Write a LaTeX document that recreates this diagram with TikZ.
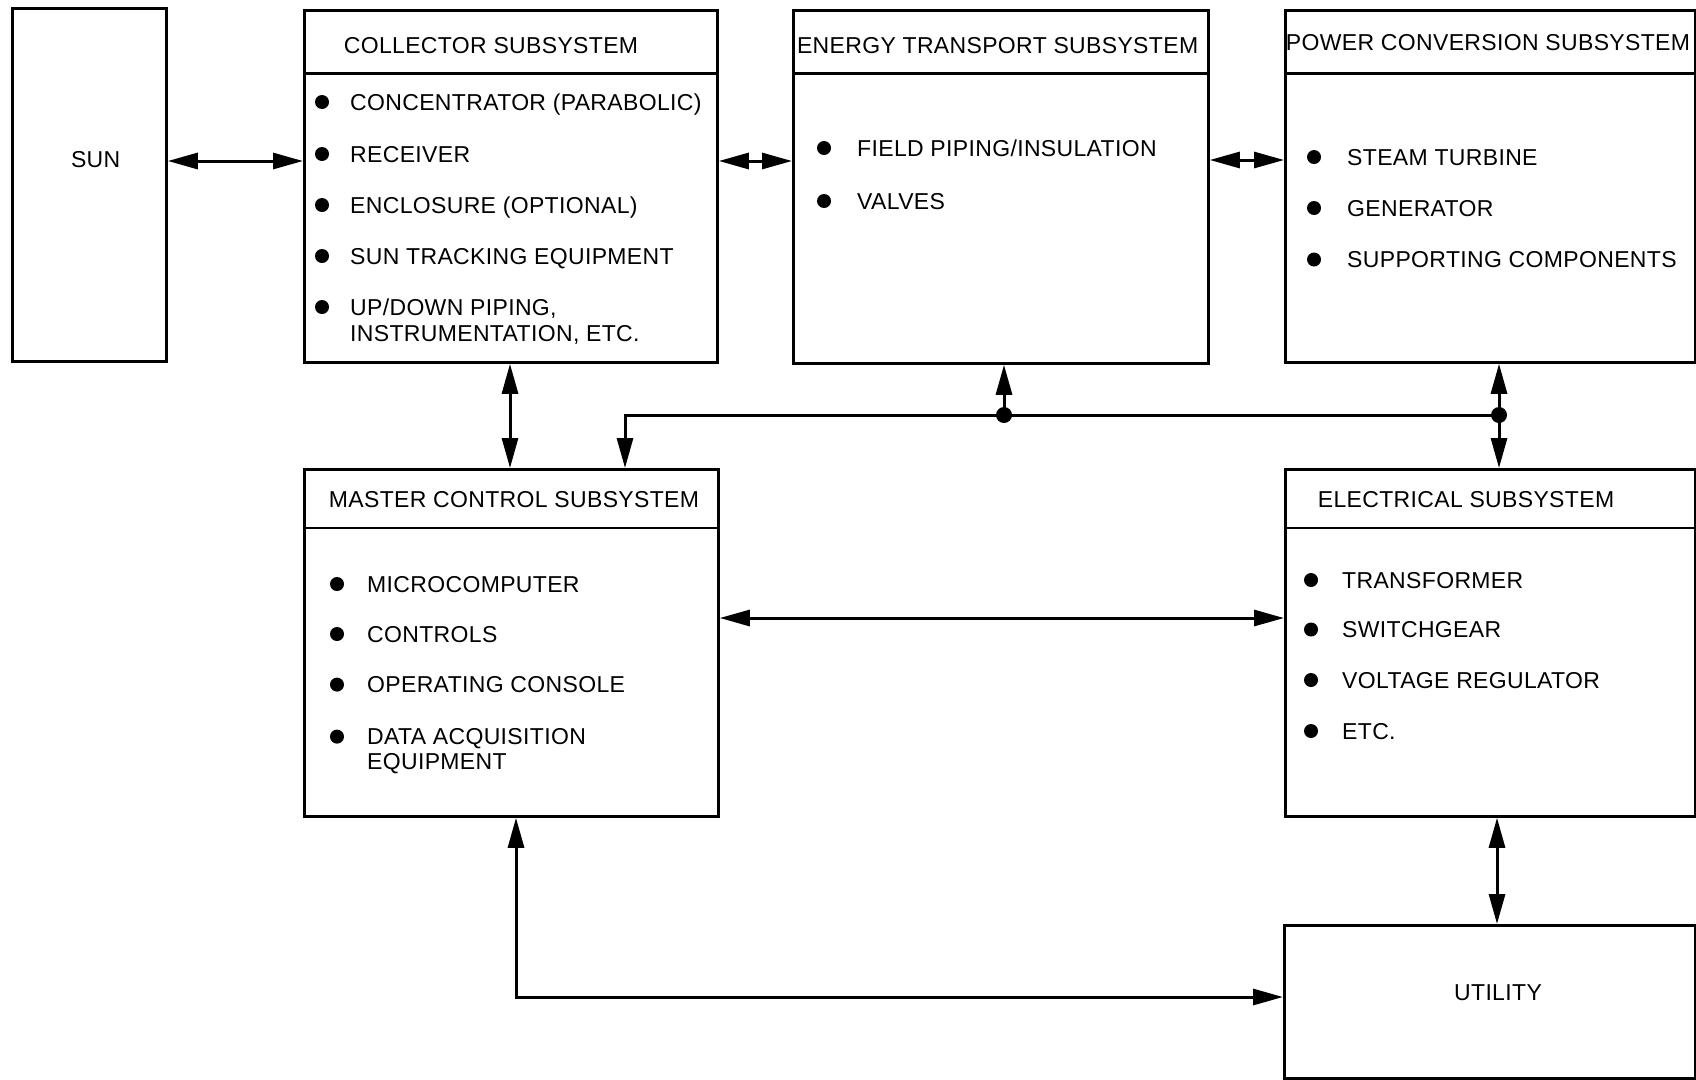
\documentclass[tikz,border=0pt]{standalone}
\usepackage{fontspec}
\setmainfont{Liberation Sans}[LetterSpace=1.5]
\usetikzlibrary{arrows.meta}
\begin{document}
\begin{tikzpicture}[x=1pt,y=-1pt,
  box/.style={draw,line width=2.8pt,rectangle,anchor=north west,inner sep=0pt},
  hline/.style={line width=2.6pt},
  txt/.style={inner sep=0pt,font=\fontsize{23}{27}\selectfont},
  itm/.style={txt,anchor=base west},
  bul/.style={circle,fill,inner sep=0pt,minimum size=14pt},
  jdot/.style={circle,fill,inner sep=0pt,minimum size=16pt},
  tip/.tip={Triangle[length=30pt,width=16pt]},
  conn/.style={line width=3pt},
  arr/.style={conn,tip-tip},
  arrend/.style={conn,-tip}]
\useasboundingbox (0,0) rectangle (1696,1079);

% boxes
\node[box,minimum width=154pt,minimum height=353pt] (sun) at (11,7) {};
\node[box,minimum width=413pt,minimum height=352pt] (col) at (303,9) {};
\node[box,minimum width=415pt,minimum height=353pt] (ets) at (792,9) {};
\node[box,minimum width=410pt,minimum height=352pt] (pcs) at (1284,9) {};
\node[box,minimum width=414pt,minimum height=347pt] (mcs) at (303,468) {};
\node[box,minimum width=410pt,minimum height=347pt] (els) at (1284,468) {};
\node[box,minimum width=411pt,minimum height=153pt] (utl) at (1283,924) {};

% header separators
\draw[hline] ([yshift=-64.5pt]col.north west) -- ([yshift=-64.5pt]col.north east);
\draw[hline] ([yshift=-64.5pt]ets.north west) -- ([yshift=-64.5pt]ets.north east);
\draw[hline] ([yshift=-64.5pt]pcs.north west) -- ([yshift=-64.5pt]pcs.north east);
\draw[hline] ([yshift=-60pt]mcs.north west) -- ([yshift=-60pt]mcs.north east);
\draw[hline] ([yshift=-60pt]els.north west) -- ([yshift=-60pt]els.north east);

% single labels
\node[txt] (sunt) at (95.7,160) {SUN};
\node[txt] (utlt) at (1498,993) {UTILITY};

% headers
\node[txt] (colh) at (491,45.4) {COLLECTOR SUBSYSTEM};
\node[txt] (etsh) at (997.6,45.4) {ENERGY TRANSPORT SUBSYSTEM};
\node[txt] (pcsh) at (1488,43) {POWER CONVERSION SUBSYSTEM};
\node[txt] (mcsh) at (514,499.7) {MASTER CONTROL SUBSYSTEM};
\node[txt] (elsh) at (1466,499.7) {ELECTRICAL SUBSYSTEM};

% collector items
\node[bul] (cb1) at (322,102) {};
\node[bul] (cb2) at (322,154) {};
\node[bul] (cb3) at (322,205) {};
\node[bul] (cb4) at (322,256) {};
\node[bul] (cb5) at (322,307) {};
\node[itm] (ci1) at (350,110) {CONCENTRATOR (PARABOLIC)};
\node[itm] (ci2) at (350,162) {RECEIVER};
\node[itm] (ci3) at (350,213) {ENCLOSURE (OPTIONAL)};
\node[itm] (ci4) at (350,264) {SUN TRACKING EQUIPMENT};
\node[itm] (ci5) at (350,315) {UP/DOWN PIPING,};
\node[itm] (ci6) at (350,341) {INSTRUMENTATION, ETC.};

% energy transport items
\node[bul] (eb1) at (824,148) {};
\node[bul] (eb2) at (824,201) {};
\node[itm] (ei1) at (857,156) {FIELD PIPING/INSULATION};
\node[itm] (ei2) at (857,209) {VALVES};

% power conversion items
\node[bul] (pb1) at (1314,157) {};
\node[bul] (pb2) at (1314,208) {};
\node[bul] (pb3) at (1314,259.5) {};
\node[itm] (pi1) at (1347,165) {STEAM TURBINE};
\node[itm] (pi2) at (1347,216) {GENERATOR};
\node[itm] (pi3) at (1347,267.5) {SUPPORTING COMPONENTS};

% master control items
\node[bul] (mb1) at (337,584) {};
\node[bul] (mb2) at (337,634) {};
\node[bul] (mb3) at (337,684.6) {};
\node[bul] (mb4) at (337,736.6) {};
\node[itm] (mi1) at (367,592) {MICROCOMPUTER};
\node[itm] (mi2) at (367,642) {CONTROLS};
\node[itm] (mi3) at (367,692.5) {OPERATING CONSOLE};
\node[itm] (mi4) at (367,744.5) {DATA ACQUISITION};
\node[itm] (mi5) at (367,769.5) {EQUIPMENT};

% electrical items
\node[bul] (lb1) at (1311,580) {};
\node[bul] (lb2) at (1311,629.5) {};
\node[bul] (lb3) at (1311,680) {};
\node[bul] (lb4) at (1311,731) {};
\node[itm] (li1) at (1342,588) {TRANSFORMER};
\node[itm] (li2) at (1342,637.5) {SWITCHGEAR};
\node[itm] (li3) at (1342,688) {VOLTAGE REGULATOR};
\node[itm] (li4) at (1342,739) {ETC.};

% connector helper coordinates
\coordinate (ySC) at (0,161);
\coordinate (yCE) at (0,161);
\coordinate (yEP) at (0,160);
\coordinate (xCM) at (510,0);
\coordinate (busL) at (625,415);
\coordinate (j1) at (1004,415);
\coordinate (j2) at (1499,415);
\coordinate (yME) at (0,618);
\coordinate (xEU) at (1497,0);
\coordinate (cnr) at (516,997);

% connectors
\draw[arr] (sun.east |- ySC) -- (col.west |- ySC);
\draw[arr] (col.east |- yCE) -- (ets.west |- yCE);
\draw[arr] (ets.east |- yEP) -- (pcs.west |- yEP);
\draw[arr] (col.south -| xCM) -- (mcs.north -| xCM);
\draw[arrend] (j2) -- (busL) -- (mcs.north -| busL);
\draw[arrend] (j1) -- (ets.south -| j1);
\draw[arrend] (j2) -- (pcs.south -| j2);
\draw[arrend] (j2) -- (els.north -| j2);
\node[jdot] (d1) at (j1) {};
\node[jdot] (d2) at (j2) {};
\draw[arr] (mcs.east |- yME) -- (els.west |- yME);
\draw[arr] (els.south -| xEU) -- (utl.north -| xEU);
\draw[arr] (mcs.south -| cnr) -- (cnr) -- (utl.west |- cnr);
\end{tikzpicture}
\end{document}
